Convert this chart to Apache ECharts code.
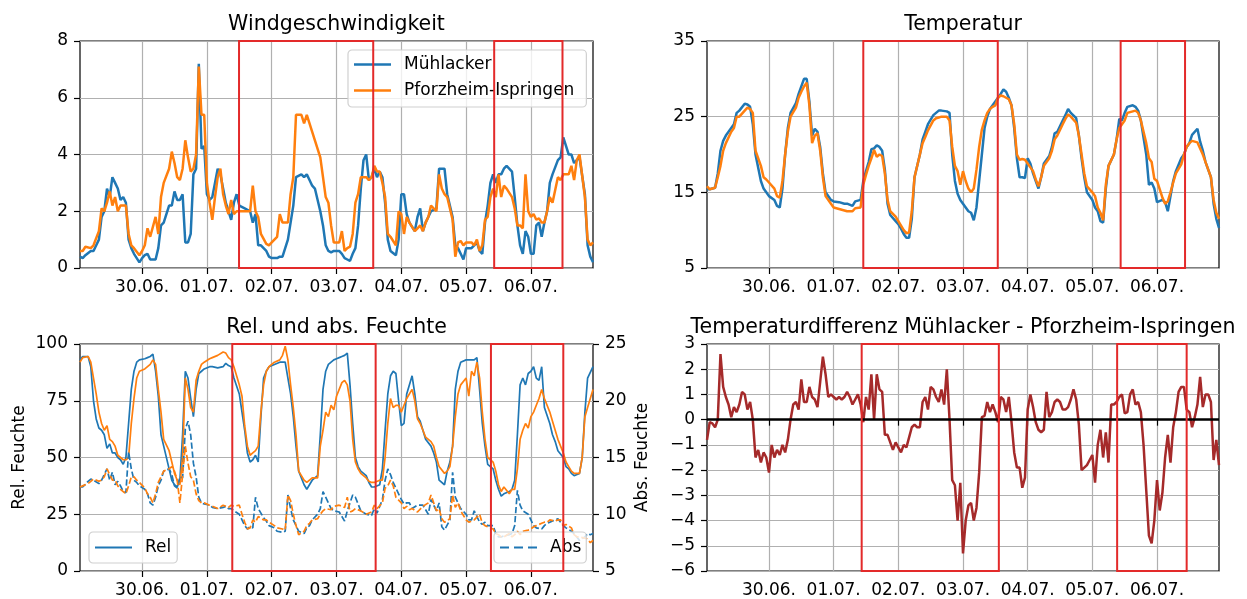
<!DOCTYPE html>
<html><head><meta charset="utf-8">
<script src="https://cdn.jsdelivr.net/npm/echarts@6/dist/echarts.min.js"></script>
<style>html,body{margin:0;padding:0;background:#fff}#c{width:1247px;height:599px}</style>
</head><body><div id="c"></div><script>
// ---------- data ----------
const dayLabels = ['29.06.','30.06.','01.07.','02.07.','03.07.','04.07.','05.07.','06.07.'];

// Windgeschwindigkeit (hours since 29.06. 00:00)
const windHours = [1,2,3,5,6,8,9,10,11,12,
 13,14,15,16,17,18,19,20,21,23,
 24,25,26,27,29,30,31,32,34,35,
 36,37,38,39,40,41,42,43,44,45,
 46,47,48,49,50,51,52,53,54,55,
 56,57,58,59,60,62,64,65,66,67,
 68,70,71,72,74,75,76,78,79,80,
 81,83,84,85,86,87,88,90,91,92,
 93,94,95,97,98,99,100,101,102,103,
 104,105,106,107,108,109,110,111,112,113,
 114,115,116,118,119,120,121,122,123,125,
 126,127,128,129,130,131,133,134,135,136,
 137,139,140,141,142,143,144,146,147,148,
 149,150,151,152,153,154,155,156,157,158,
 159,161,162,163,164,165,166,167,168,169,
 170,171,172,173,174,175,176,178,179,180,
 181,182,183,184,185,186,188,189,190,191];
const windMuehlacker = [0.4,0.35,0.45,0.6,0.6,1.0,1.8,2.0,2.8,2.5,
 3.2,3.0,2.8,2.4,2.5,2.3,1.0,0.7,0.5,0.2,
 0.35,0.45,0.5,0.3,0.3,0.7,1.5,1.6,2.2,2.2,
 2.7,2.4,2.4,2.6,0.9,0.9,1.2,3.3,3.5,7.2,
 4.2,4.3,2.6,2.4,2.5,3.0,3.5,3.3,2.8,2.3,
 2.0,1.7,2.3,2.6,2.2,2.1,2.0,1.6,1.9,0.8,
 0.8,0.6,0.4,0.35,0.35,0.4,0.4,1.0,1.6,2.2,
 3.2,3.3,3.2,3.3,3.1,2.9,2.8,2.0,1.5,0.8,
 0.6,0.55,0.6,0.6,0.5,0.35,0.3,0.25,0.5,0.7,
 1.5,2.8,3.8,4.0,3.1,3.2,3.5,3.2,3.4,3.2,
 2.3,1.0,0.6,0.45,1.0,2.6,2.6,1.9,1.6,1.3,
 1.8,2.1,1.3,1.6,1.8,2.0,2.1,3.5,3.5,3.5,
 2.6,1.8,0.8,0.7,0.5,0.3,0.7,0.7,0.8,0.9,
 0.6,0.5,1.6,2.2,3.0,3.3,3.0,3.3,3.3,3.5,
 3.6,3.4,2.5,1.5,0.8,0.5,1.3,1.1,0.5,0.5,
 1.5,1.6,1.1,1.6,2.0,3.0,3.3,3.8,3.9,4.6,
 4.3,4.0,4.0,3.7,3.8,3.9,2.6,0.8,0.4,0.2];
const windPforzheim = [0.6,0.6,0.75,0.7,0.8,1.3,2.1,2.0,2.3,2.7,
 2.2,2.5,2.0,2.2,2.2,2.2,1.2,0.8,0.7,0.45,
 0.6,0.8,1.4,1.1,1.8,1.2,2.5,3.0,3.5,4.1,
 3.7,3.2,3.1,3.5,4.5,3.9,3.4,3.5,4.0,7.1,
 5.4,5.4,3.0,2.3,1.7,2.5,3.2,3.5,2.6,2.2,
 1.9,2.4,1.9,2.0,2.0,2.0,2.0,2.9,2.0,1.8,
 1.2,0.85,0.8,0.9,1.1,1.9,1.6,1.6,2.6,3.2,
 5.4,5.4,5.1,5.4,5.1,4.8,4.5,3.9,3.2,2.5,
 2.3,1.5,0.9,0.9,1.3,0.6,0.7,0.75,1.2,2.3,
 2.6,3.2,3.2,3.2,3.1,3.2,3.6,3.4,3.4,3.0,
 2.5,1.2,1.1,0.8,2.0,1.9,1.2,1.8,1.6,1.3,
 1.4,1.5,1.3,1.6,1.8,2.2,2.0,3.3,2.8,2.6,
 2.5,1.7,0.4,0.9,0.95,0.8,0.9,0.9,0.8,1.0,
 0.6,0.8,1.7,1.8,2.5,2.8,2.5,3.3,2.5,2.9,
 2.8,2.5,2.1,1.5,1.5,1.4,3.3,2.0,1.8,1.9,
 1.7,1.75,1.6,1.6,2.0,2.5,2.3,3.2,3.1,3.3,
 3.3,3.3,3.6,3.1,3.8,4.0,2.5,1.0,0.8,0.9];

// Temperatur
const tempHours = [1,2,4,5,6,7,8,10,11,12,
 13,15,16,17,18,19,21,22,23,24,
 26,27,28,29,30,31,32,34,35,36,
 37,38,39,40,41,42,43,44,45,47,
 48,50,52,53,55,56,58,59,60,61,
 62,63,64,65,66,67,68,69,71,72,
 73,74,75,76,77,78,80,81,82,83,
 85,86,87,88,90,91,92,93,94,95,
 96,97,98,99,100,101,102,103,104,105,
 106,107,108,109,110,111,112,113,114,115,
 116,117,118,119,120,121,122,123,124,125,
 126,128,129,130,131,133,134,135,136,138,
 139,140,141,142,144,145,146,147,148,149,
 150,152,153,154,155,156,157,159,160,161,
 162,164,165,166,167,168,170,171,172,173,
 174,175,177,178,179,180,181,183,184,185,
 186,188,189,190,191];
const tempMuehlacker = [15.4,15.4,15.6,17.5,20.5,21.8,22.5,23.5,24.0,25.5,
 25.8,26.7,26.6,26.3,24.0,20.0,16.5,15.5,15.0,14.5,
 14.0,13.2,13.0,15.5,20.0,23.5,25.5,26.8,28.0,29.0,
 30.0,30.0,27.0,22.5,23.4,23.0,21.0,17.5,15.0,14.0,
 13.8,13.7,13.5,13.5,13.2,13.8,14.0,16.5,17.8,19.0,
 20.7,20.8,21.2,21.0,20.5,18.0,13.5,12.0,11.2,10.8,
 10.2,9.5,9.0,9.0,11.5,17.0,20.0,22.0,23.0,24.0,
 25.2,25.5,25.8,25.8,25.7,25.5,20.0,16.5,14.8,14.0,
 13.5,13.0,12.5,12.3,11.3,13.0,16.5,20.0,23.5,25.0,
 26.0,26.5,27.0,27.5,28.0,28.6,28.3,27.5,26.5,23.5,
 19.5,17.0,17.0,16.9,19.5,18.8,17.5,16.5,15.5,17.0,
 18.8,19.8,21.0,22.8,23.0,24.5,25.2,26.0,25.5,24.8,
 22.5,19.5,17.0,15.0,14.0,13.0,12.5,11.2,11.0,15.5,
 18.5,20.0,22.0,24.7,24.5,25.5,26.3,26.5,26.3,25.8,
 24.5,20.0,16.0,16.3,15.5,13.7,14.0,13.7,12.5,14.5,
 16.5,17.8,19.5,20.0,21.0,21.5,22.6,23.4,21.7,20.5,
 19.0,17.0,13.5,11.5,10.3];
const tempPforzheim = [15.8,15.4,15.6,17.0,18.5,20.5,21.5,23.0,23.5,25.0,
 25.0,25.8,26.2,26.0,25.5,20.5,18.5,17.0,16.7,16.3,
 15.5,14.5,14.3,16.5,20.0,23.0,25.0,26.2,27.5,28.3,
 29.0,29.5,26.5,21.5,22.5,22.8,20.5,17.0,14.5,13.5,
 13.0,12.8,12.6,12.5,12.5,12.9,13.0,16.0,17.3,18.5,
 19.5,20.6,19.7,20.0,19.8,17.5,14.0,12.5,11.8,11.2,
 10.6,10.0,9.6,9.7,12.5,17.0,20.0,21.5,22.3,23.2,
 24.5,24.8,24.9,25.0,25.0,24.5,21.0,18.5,17.8,16.0,
 17.8,16.5,15.5,15.0,15.5,18.0,21.0,23.3,24.5,25.5,
 26.0,26.3,26.5,27.5,27.8,27.7,27.5,27.3,26.5,24.0,
 20.0,19.3,19.4,19.3,18.8,18.3,17.8,16.7,15.8,17.0,
 18.5,19.5,20.5,22.0,22.5,24.0,24.7,25.3,25.0,24.2,
 22.5,20.0,17.5,15.8,15.0,14.5,13.0,12.3,11.3,16.0,
 18.5,20.0,22.0,23.5,24.0,24.5,25.5,25.7,25.8,25.5,
 24.5,21.5,19.5,19.0,16.8,16.5,14.3,13.5,13.8,15.0,
 16.3,17.5,18.7,20.0,21.0,21.5,21.8,21.6,20.8,20.0,
 19.0,17.0,14.0,12.3,11.5];

// Relative Feuchte (%)
const relHours = [1,2,4,5,6,7,8,9,10,11,
 12,13,14,15,16,17,18,19,20,21,
 22,23,25,26,27,28,29,30,31,32,
 34,35,36,37,38,39,40,41,42,43,
 44,45,46,47,49,50,52,54,55,56,
 57,58,60,61,62,63,64,65,66,67,
 68,69,70,71,73,75,76,77,78,79,
 80,81,82,84,85,86,87,89,90,91,
 92,93,94,95,96,97,98,99,100,101,
 102,103,104,105,107,108,109,110,112,113,
 114,115,116,117,118,119,120,121,122,124,
 125,126,127,128,129,131,132,133,134,136,
 137,138,139,140,141,142,144,145,146,147,
 148,149,150,151,152,154,155,156,157,158,
 160,161,162,163,164,165,166,167,168,169,
 170,171,172,173,175,176,177,178,180,181,
 182,183,184,186,187,188,189,191];
const relMuehlacker = [93,94.5,94.5,90,75,67,63,62,60,54,
 56,52,52,50,49,47,50,65,80,88,
 92,93,93.5,94,94.5,95.5,88,77,60,55,
 45,40,38,37,40,60,88,85,76,68,
 80,87,88,89,90,90,89.5,90,91.5,90.5,
 90,85,78,70,62,52,48,49,51,48,
 68,85,88,90,91,92,92,92,85,78,
 68,55,44,38,36,38,40,42,60,80,
 88,91,92,93,93.5,94,94.5,95,96,82,
 65,50,46,44,42,39,37,37,38,45,
 62,78,86,88,87,75,64,65,78,86,
 78,68,66,62,58,55,52,48,40,38,
 44,48,55,80,88,92,93,93,93,93,
 94,80,65,55,47,45,40,36,33,34,
 35,36,40,60,82,85,82,87,88,90,
 85,84,90,72,65,60,57,53,50,46,
 45,43,42,43,50,70,85,90];
const relPforzheim = [92,94,94.5,92,85,78,70,65,62,64,
 58,57,55,51,50,49,49,50,65,76,
 85,88,89,90,91,93,91,80,70,58,
 53,48,43,40,38,50,85,80,72,70,
 84,88,91,92,93.5,94,95,96.5,96,94,
 93,90,82,77,64,55,51,52,53,55,
 70,82,88,90,92,93,95,99,93,82,
 72,60,44,40,39,40,41,41,55,62,
 70,68,73,71,77,80,83,84,82,75,
 58,48,45,43,41,39.5,39,39,40,40,
 50,65,76,72,73,73,70,73,76,80,
 75,67,65,62,59,57,55,50,46,43,
 44,46,55,68,78,82,85,77,88,86,
 92,85,70,58,50,48,44,38,35,37,
 34,36,36,45,58,62,65,63,68,70,
 73,76,80,76,70,66,62,58,52,48,
 46,44,43,43,50,68,72,80];

// Absolute Feuchte (g/m³)
const absHours = [1,2,4,5,6,8,9,10,11,12,
 13,14,15,16,17,18,19,20,21,22,
 23,25,26,27,28,29,30,31,32,34,
 35,36,37,38,39,40,41,42,43,44,
 45,46,47,49,50,52,54,55,56,57,
 58,60,61,62,63,64,65,66,67,69,
 70,71,73,74,76,77,78,79,80,81,
 82,84,85,86,87,89,90,91,92,94,
 95,97,99,100,101,102,103,105,107,109,
 110,111,113,114,115,116,117,118,120,121,
 122,123,124,126,128,130,131,133,134,135,
 136,138,139,140,141,142,144,145,146,147,
 149,150,151,152,154,155,156,157,158,160,
 161,162,163,164,165,167,168,169,170,172,
 173,174,175,177,178,179,180,181,183,184,
 185,186,188,189,190,191];
const absMuehlacker = [12.4,12.4,12.9,13.1,13.0,12.7,13.0,13.5,14.0,13.0,
 13.7,12.6,12.9,12.5,12.0,11.9,15.5,14.0,13.0,12.8,
 12.5,12.2,11.8,11.0,10.8,11.5,12.5,13.0,13.8,14.0,
 13.5,12.5,12.3,13.3,13.2,17.5,18.2,17.0,14.5,13.3,
 11.5,11.0,10.9,10.8,10.6,10.5,10.6,10.7,10.5,10.5,
 10.3,10.0,9.5,9.0,8.7,8.9,8.8,11.5,10.5,9.7,
 9.4,9.0,8.8,8.5,8.4,8.5,11.7,10.5,9.5,9.0,
 8.5,8.3,8.8,9.0,9.5,10.0,10.5,12.0,11.5,10.5,
 10.3,10.2,9.4,10.3,11.0,11.7,11.5,10.3,10.0,9.9,
 10.5,10.1,11.3,13.0,14.0,13.5,12.8,12.3,11.3,10.9,
 11.0,11.0,10.5,10.8,10.8,10.0,11.3,10.3,11.0,8.9,
 8.6,9.5,13.7,11.5,11.0,10.5,10.0,9.5,9.5,10.3,
 9.3,9.1,9.3,9.0,9.0,8.3,8.0,8.0,8.1,8.2,
 8.3,9.0,12.1,10.8,10.3,10.0,9.5,9.0,8.8,8.7,
 9.0,9.2,9.3,9.5,9.6,9.3,9.0,8.8,8.5,8.3,
 8.0,7.7,8.0,8.3,8.2,8.3];
const absPforzheim = [12.4,12.5,12.7,12.9,13.1,12.9,13.0,13.3,14.0,13.5,
 13.0,13.0,12.5,12.2,12.0,11.8,12.5,13.3,13.3,13.0,
 12.8,12.3,11.8,11.5,11.0,11.8,12.8,13.3,13.8,14.0,
 14.2,13.8,13.0,11.0,13.5,16.0,14.5,13.3,13.0,11.8,
 11.2,11.0,11.0,10.8,10.7,10.5,10.8,10.7,10.6,10.8,
 10.7,10.8,10.0,9.3,8.7,8.8,9.5,9.3,9.8,9.5,
 9.5,9.3,9.0,8.8,8.7,8.6,11.7,11.2,10.0,9.0,
 8.2,8.5,9.0,9.2,9.5,9.6,10.0,10.3,10.5,10.4,
 10.7,10.8,10.6,11.5,10.2,10.3,10.5,10.3,10.0,10.2,
 10.8,10.5,11.0,12.3,12.5,13.0,12.5,11.5,11.0,10.5,
 10.7,10.4,10.5,10.2,10.7,11.0,11.7,10.3,10.5,9.6,
 9.3,9.6,11.7,10.6,11.0,10.3,9.5,9.3,9.4,9.5,
 10.0,9.2,9.0,8.9,8.7,8.3,8.2,8.0,8.0,8.3,
 8.0,8.2,8.5,8.2,8.5,8.6,8.7,8.9,9.0,9.2,
 9.3,9.3,9.5,9.4,9.5,9.5,9.0,9.1,8.8,8.2,
 8.0,8.0,7.9,7.8,7.5,7.7];

// Temperaturdifferenz, hourly from hour 1 to 191
const diffValues = [-0.8,-0.1,-0.15,-0.3,0.0,2.6,1.3,0.9,0.6,0.1,
 0.5,0.3,0.6,1.1,1.0,0.4,0.7,0.0,-1.5,-1.2,
 -1.7,-1.3,-1.5,-2.1,-1.0,-1.5,-1.2,-1.4,-1.0,-1.3,
 -0.8,0.0,0.6,0.7,0.4,1.6,0.7,0.7,1.3,0.9,
 0.8,0.5,1.5,2.5,1.8,0.9,1.0,0.9,0.8,0.9,
 0.8,0.9,1.1,0.9,0.6,0.8,1.0,0.6,-0.1,0.9,
 0.4,1.8,0.0,1.8,1.2,1.1,-0.6,-0.6,-0.9,-1.2,
 -0.9,-1.1,-1.3,-1.0,-1.1,-0.7,-0.3,-0.2,-0.3,-0.3,
 0.7,0.9,0.4,1.3,1.2,0.9,0.7,1.2,0.6,2.0,
 0.0,-2.4,-2.6,-4.0,-2.5,-5.3,-4.0,-3.4,-3.3,-4.0,
 -3.5,-2.1,0.1,0.15,0.7,0.3,0.6,0.3,-0.1,0.9,
 0.8,0.3,0.9,-0.1,-1.3,-1.9,-1.9,-2.7,-2.3,0.4,
 1.0,0.5,-0.1,-0.4,-0.5,-0.4,1.1,0.1,0.3,0.7,
 0.8,0.7,0.4,0.4,0.5,0.8,1.2,0.8,-0.2,-2.0,
 -1.9,-1.8,-1.6,-1.4,-2.5,-1.0,-0.4,-1.5,-0.5,-1.7,
 0.6,0.6,0.7,0.9,1.0,0.25,0.3,1.0,1.2,0.6,
 0.7,0.3,-1.0,-2.8,-4.6,-4.9,-4.0,-2.4,-3.6,-2.9,
 -1.5,-0.6,-1.7,-0.3,0.3,1.1,1.3,1.3,0.4,0.3,
 -0.3,0.1,0.6,1.7,0.5,1.0,1.0,0.7,-1.6,-0.8,-1.8];

// Red highlight boxes (start hour, end hour) per panel
const boxesWind = [[59.9,109.6],[154.4,179.7]];
const boxesTemp = [[59.0,108.9],[154.5,178.4]];
const boxesHum  = [[57.4,110.5],[153.2,180.0]];
const boxesDiff = [[58.4,109.3],[153.2,179.0]];

// ---------- chart ----------
const FONT = "'DejaVu Sans', sans-serif";
const BLUE = '#1f77b4', ORANGE = '#ff7f0e', BROWN = '#a52a2a', RED = '#e32a2a';
const hourCats = [];
for (let h = 1; h <= 191; h++) hourCats.push(dayLabels[Math.floor(h / 24)] + ' ' + String(h % 24).padStart(2, '0') + ':00');
const isDay = (i) => (i + 1) % 24 === 0;
const pts = (hours, vals) => hours.map((h, i) => [h - 1, vals[i]]);
const diffHours = diffValues.map((v, i) => i + 1);

const grids = [
  {left: 80, top: 41, width: 513, height: 227},
  {left: 707, top: 41, width: 512, height: 227},
  {left: 80, top: 344, width: 513, height: 227},
  {left: 707, top: 344, width: 512, height: 227}
].map(g => Object.assign(g, {show: true, borderColor: '#000', borderWidth: 1.2, backgroundColor: 'transparent', containLabel: false}));

function xAxis(gi) {
  return {type: 'category', gridIndex: gi, data: hourCats, boundaryGap: false,
    axisLine: {show: false},
    axisTick: {show: true, interval: isDay, length: 6, lineStyle: {color: '#000', width: 1.2}},
    axisLabel: {interval: isDay, formatter: (v) => String(v).split(' ')[0], margin: 11, fontSize: 17, color: '#000', fontFamily: FONT},
    splitLine: {show: true, interval: isDay, lineStyle: {color: '#b0b0b0', width: 1.2}}};
}
function yAxis(gi, min, max, interval, extra) {
  return Object.assign({type: 'value', gridIndex: gi, min, max, interval,
    axisLine: {show: false},
    axisTick: {show: true, length: 6, lineStyle: {color: '#000', width: 1.2}},
    axisLabel: {margin: 12, fontSize: 17, color: '#000', fontFamily: FONT,
      formatter: (v) => String(v).replace('-', '\u2212')},
    splitLine: {show: true, lineStyle: {color: '#b0b0b0', width: 1.2}},
    nameTextStyle: {fontSize: 17, color: '#000', fontFamily: FONT}}, extra || {});
}
function line(name, xi, yi, data, color, width, dashed) {
  return {type: 'line', name, xAxisIndex: xi, yAxisIndex: yi, data, symbol: 'none', showSymbol: false,
    lineStyle: {color, width, type: dashed ? [6.3, 2.7] : 'solid'}, itemStyle: {color}, z: 3, animation: false};
}
function boxSeries(xi, yi, spans, yMin, yMax) {
  return {type: 'custom', xAxisIndex: xi, yAxisIndex: yi, z: 20, silent: true, clip: false, animation: false,
    data: spans.map(() => [0, yMin]),
    renderItem: (params, api) => {
      const s = spans[params.dataIndex];
      const at = (h, y) => {
        const i = h - 1, f = Math.floor(i), c = Math.ceil(i);
        const a = api.coord([f, y]), b = api.coord([c, y]);
        return [a[0] + (b[0] - a[0]) * (i - f), a[1]];
      };
      const p0 = at(s[0], yMax), p1 = at(s[1], yMin);
      return {type: 'rect', shape: {x: p0[0], y: p0[1], width: p1[0] - p0[0], height: p1[1] - p0[1]},
        style: {fill: 'none', stroke: RED, lineWidth: 2}};
    }};
}
const titleStyle = {fontSize: 20.5, fontWeight: 'normal', color: '#000', fontFamily: FONT};
const legendBase = {orient: 'vertical', selectedMode: false, itemWidth: 37, itemGap: 9,
  backgroundColor: 'rgba(255,255,255,0.8)', borderColor: '#d0d0d0', borderWidth: 1.2, borderRadius: 4,
  textStyle: {fontSize: 17, fontFamily: FONT, color: '#000', padding: [0, 0, 0, 8]}};

const option = {
  animation: false,
  title: [
    {text: 'Windgeschwindigkeit', left: 336.5, top: 14, textAlign: 'center', padding: 0, textStyle: titleStyle},
    {text: 'Temperatur', left: 963, top: 14, textAlign: 'center', padding: 0, textStyle: titleStyle},
    {text: 'Rel. und abs. Feuchte', left: 336.5, top: 317, textAlign: 'center', padding: 0, textStyle: titleStyle},
    {text: 'Temperaturdifferenz Mühlacker - Pforzheim-Ispringen', left: 963, top: 317, textAlign: 'center', padding: 0, textStyle: titleStyle}
  ],
  legend: [
    Object.assign({}, legendBase, {left: 348, top: 50, padding: [6, 12, 8, 6], itemHeight: 2.5, icon: 'rect', data: ['Mühlacker', 'Pforzheim-Ispringen']}),
    Object.assign({}, legendBase, {left: 89, top: 532, padding: [7, 6, 7, 6], itemHeight: 2, icon: 'rect', data: ['Rel']}),
    Object.assign({}, legendBase, {left: 494, top: 532, padding: [7, 5, 7, 6], itemHeight: 2,
      icon: 'path://M0,0H9V2H0Z M14,0H23V2H14Z M28,0H37V2H28Z', data: ['Abs']})
  ],
  grid: grids,
  xAxis: [xAxis(0), xAxis(1), xAxis(2), xAxis(3)],
  yAxis: [
    yAxis(0, 0, 8, 2),
    yAxis(1, 5, 35, 10),
    yAxis(2, 0, 100, 25, {name: 'Rel. Feuchte', nameLocation: 'middle', nameGap: 52, nameRotate: 90}),
    yAxis(2, 5, 25, 5, {position: 'right', name: 'Abs. Feuchte', nameLocation: 'middle', nameGap: 41, nameRotate: 90, splitLine: {show: false}}),
    yAxis(3, -6, 3, 1)
  ],
  series: [
    line('Mühlacker', 0, 0, pts(windHours, windMuehlacker), BLUE, 2.5),
    line('Pforzheim-Ispringen', 0, 0, pts(windHours, windPforzheim), ORANGE, 2.5),
    line('Mühlacker Temperatur', 1, 1, pts(tempHours, tempMuehlacker), BLUE, 2.5),
    line('Pforzheim-Ispringen Temperatur', 1, 1, pts(tempHours, tempPforzheim), ORANGE, 2.5),
    line('Rel', 2, 2, pts(relHours, relMuehlacker), BLUE, 1.7),
    line('Rel Pforzheim-Ispringen', 2, 2, pts(relHours, relPforzheim), ORANGE, 1.7),
    line('Abs', 2, 3, pts(absHours, absMuehlacker), BLUE, 1.7, true),
    line('Abs Pforzheim-Ispringen', 2, 3, pts(absHours, absPforzheim), ORANGE, 1.7, true),
    Object.assign(line('Differenz', 3, 4, pts(diffHours, diffValues), BROWN, 2.5), {
      markLine: {silent: true, symbol: ['none', 'none'], label: {show: false}, animation: false,
        lineStyle: {color: '#000', width: 2.5, type: 'solid'}, data: [{yAxis: 0}]}
    }),
    boxSeries(0, 0, boxesWind, 0, 8),
    boxSeries(1, 1, boxesTemp, 5, 35),
    boxSeries(2, 2, boxesHum, 0, 100),
    boxSeries(3, 4, boxesDiff, -6, 3)
  ]
};
const chart = echarts.init(document.getElementById('c'), null, {renderer: 'canvas'});
chart.setOption(option);
</script></body></html>
